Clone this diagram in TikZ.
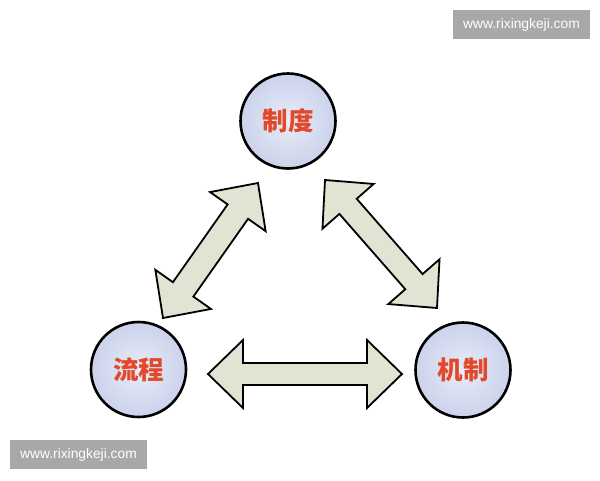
\documentclass[tikz,border=0pt]{standalone}
\usepackage{fontspec}
\newfontfamily\cjk{Noto Sans CJK SC}
\newfontfamily\wmfont{Liberation Sans}
\usetikzlibrary{calc}
\definecolor{circin}{HTML}{E9EDF8}
\definecolor{circout}{HTML}{CBD2EB}
\definecolor{labelred}{HTML}{E2482A}
\definecolor{arrowfill}{HTML}{E2E4D3}
\definecolor{wmgrey}{HTML}{A8A8A8}
\newcommand\blockarrow[3]{%
  \filldraw[blockarrowstyle]
    (#1)
    -- ($(#1)!35pt!(#2)!34pt!90:(#2)$)
    -- ($(#1)!35pt!(#2)!#3!90:(#2)$)
    -- ($(#2)!35pt!(#1)!#3!-90:(#1)$)
    -- ($(#2)!35pt!(#1)!34pt!-90:(#1)$)
    -- (#2)
    -- ($(#2)!35pt!(#1)!34pt!90:(#1)$)
    -- ($(#2)!35pt!(#1)!#3!90:(#1)$)
    -- ($(#1)!35pt!(#2)!#3!-90:(#2)$)
    -- ($(#1)!35pt!(#2)!34pt!-90:(#2)$)
    -- cycle;}
\begin{document}
\begin{tikzpicture}[x=1pt,y=-1pt,
  circ/.style={circle, draw=black, line width=2.6pt, minimum size=95pt,
    inner sep=0pt, shading=radial, inner color=circin, outer color=circout,
    text=labelred, font=\cjk\bfseries\fontsize{25.5pt}{28pt}\selectfont},
  blockarrowstyle/.style={fill=arrowfill, draw=black, line width=1.8pt, line join=miter},
  watermark/.style={fill=wmgrey, text=white, minimum width=137pt, minimum height=29pt,
    inner sep=0pt, font=\wmfont\fontsize{13.8pt}{16pt}\selectfont}]
\useasboundingbox (0,0) rectangle (600,480);
\fill[white] (0,0) rectangle (600,480);

% circles
\node[circ] (zd) at (288,121) {制度};
\node[circ] (lc) at (138.5,369.5) {流程};
\node[circ] (jz) at (463,370) {机制};

% arrow end points
\coordinate (l1) at (163,318);
\coordinate (l2) at (258,183);
\coordinate (r1) at (325,180);
\coordinate (r2) at (437,308);
\coordinate (h1) at (208,374);
\coordinate (h2) at (402,374);

\blockarrow{l1}{l2}{12.5pt}
\blockarrow{r1}{r2}{11.5pt}
\blockarrow{h1}{h2}{11pt}

% watermarks
\node[watermark] (wm1) at (521.5,24.5) {www.rixingkeji.com};
\node[watermark] (wm2) at (78.5,454.5) {www.rixingkeji.com};
\end{tikzpicture}
\end{document}
